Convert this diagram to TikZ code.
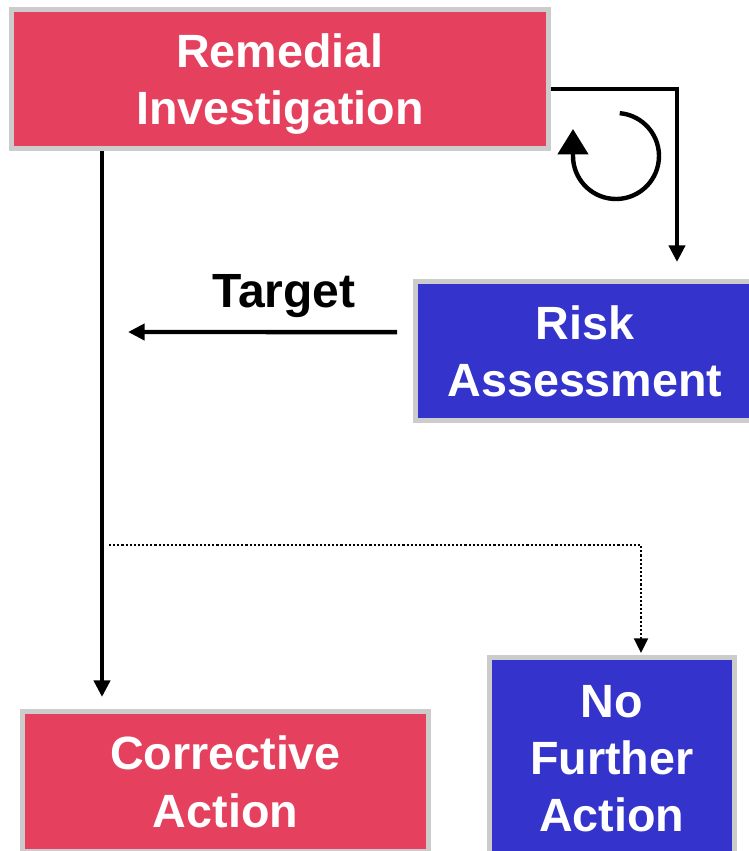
\documentclass[tikz,border=0pt]{standalone}
\usepackage{fontspec}
\usetikzlibrary{arrows.meta,calc}
\newfontfamily\lsans{Liberation Sans}
\definecolor{rired}{RGB}{229,65,95}
\definecolor{rablue}{RGB}{52,52,204}
\definecolor{bgray}{RGB}{204,204,204}
\newcommand\tstr{\rule{0pt}{34.5pt}}
\newcommand\bstr{\rule[-9pt]{0pt}{9pt}}
\begin{document}
\begin{tikzpicture}[x=0.75pt,y=-0.75pt,
  box/.style={draw=bgray, line width=3.75pt, text=white, align=center, inner sep=0pt,
    font=\lsans\bfseries\fontsize{35pt}{43.1pt}\selectfont},
  redbox/.style={box, fill=rired},
  bluebox/.style={box, fill=rablue},
  conn/.style={line width=3.3pt, -{Triangle[length=12.5pt,width=12pt]}},
  dotconn/.style={line width=1.7pt, dash pattern=on 1.6pt off 1.5pt, -{Triangle[length=11pt,width=10.5pt]}},
  loopconn/.style={line width=3.3pt, -{Triangle[length=19pt,width=22.5pt]}},
  lbl/.style={font=\lsans\bfseries\fontsize{36pt}{43pt}\selectfont, inner sep=0pt}
]
\useasboundingbox (0,0) rectangle (749,851);
\clip (0,0) rectangle (749,851);

\node[redbox, minimum width=402.75pt, minimum height=104.5pt] (ri) at (280,78.9) {\tstr Remedial\\Investigation\bstr};
\node[bluebox, minimum width=254.25pt, minimum height=104.6pt] (ra) at (585,350.75) {\tstr Risk\\Assessment\bstr};
\node[redbox, minimum width=304.5pt, minimum height=105pt] (ca) at (225.5,781.5) {\tstr Corrective\\Action\bstr};
\node[bluebox, minimum width=183.4pt, minimum height=150pt] (nfa) at (611.75,757.5) {\tstr No\\Further\\Action\bstr};

\coordinate (m) at (102,545);
\coordinate (tend) at (128,332);
\coordinate (lc) at (616,156);

% Remedial Investigation -> Risk Assessment
\draw[conn] ([yshift=-7.5pt]ri.east) -| ([xshift=198pt,yshift=12.4pt]ra.north west);
% iteration loop
\draw[loopconn] ([shift={(85:32.25pt)}]lc) arc[start angle=85, end angle=-180, radius=32.25pt] -- ++(0,-27);
% Risk Assessment -> Target
\draw[conn] ([xshift=-12pt,yshift=14pt]ra.west) -- (tend);
\node[lbl, anchor=base] (tgt) at (284,307) {Target};
% main line to Corrective Action
\draw[conn, shorten >=9pt] (m |- ri.south) -- (m |- ca.north);
% dotted branch to No Further Action
\draw[dotconn, shorten <=5.25pt] (m) -| ([xshift=21.94pt,yshift=1.5pt]nfa.north);
\end{tikzpicture}
\end{document}
